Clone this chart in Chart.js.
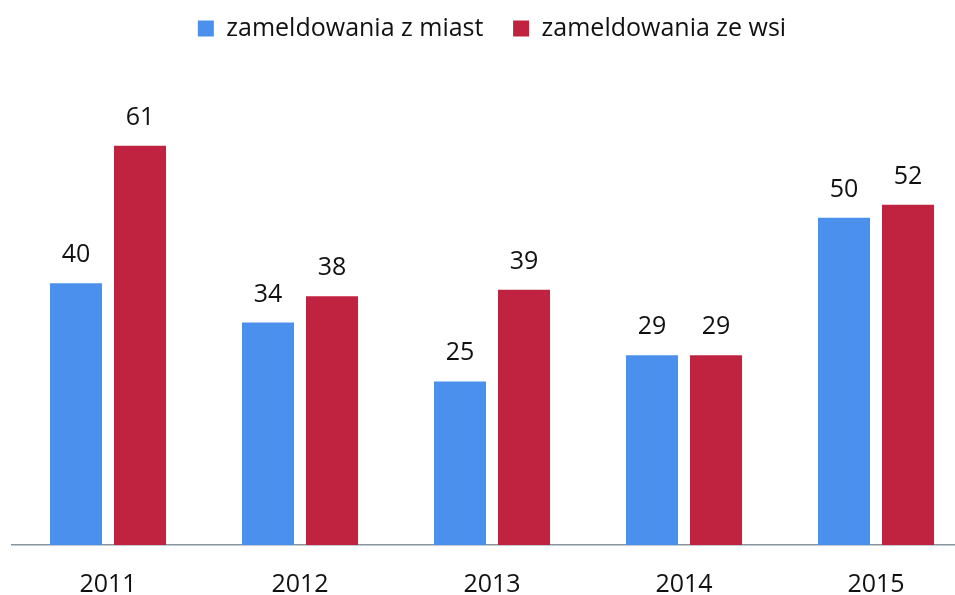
<!DOCTYPE html>
<html lang="pl">
<head>
<meta charset="UTF-8">
<title>Zameldowania</title>
<script src="https://cdn.jsdelivr.net/npm/chart.js"></script>
<style>
  html, body { margin: 0; padding: 0; background: #fff; overflow: hidden; }
  /* wykres jest odrobinę szerszy niż okno, ostatnia grupa dochodzi do krawędzi */
  #box { width: 972px; height: 595px; }
</style>
</head>
<body>
<div id="box"><canvas id="wykres"></canvas></div>
<script>
  // dane
  const lata = ['2011', '2012', '2013', '2014', '2015'];
  const zMiast = [40, 34, 25, 29, 50];
  const zeWsi = [61, 38, 39, 29, 52];

  const czcionka = '"Open Sans", Lato, sans-serif';

  // wartości nad słupkami
  const etykiety = {
    id: 'etykiety',
    afterDatasetsDraw(chart) {
      const ctx = chart.ctx;
      ctx.save();
      ctx.font = '25px ' + czcionka;
      ctx.fillStyle = '#111';
      ctx.textAlign = 'center';
      ctx.textBaseline = 'alphabetic';
      chart.data.datasets.forEach((ds, i) => {
        chart.getDatasetMeta(i).data.forEach((bar, j) => {
          ctx.fillText(ds.data[j], bar.x, bar.y - 21);
        });
      });
      ctx.restore();
    }
  };

  new Chart(document.getElementById('wykres'), {
    type: 'bar',
    data: {
      labels: lata,
      datasets: [
        { label: 'zameldowania z miast', data: zMiast, backgroundColor: '#4a90ec' },
        { label: 'zameldowania ze wsi', data: zeWsi, backgroundColor: '#c02340' }
      ]
    },
    options: {
      responsive: true,
      maintainAspectRatio: false,
      animation: false,
      layout: { padding: { left: 12, right: 0, top: 3 } },
      datasets: { bar: { categoryPercentage: 0.667, barPercentage: 0.8125 } },
      plugins: {
        legend: {
          position: 'top',
          labels: {
            color: '#111',
            font: { family: czcionka, size: 25 },
            boxWidth: 16,
            boxHeight: 16,
            padding: 13,
            // większy odstęp między pozycjami legendy, bez zmiany wysokości
            generateLabels(chart) {
              const items = Chart.defaults.plugins.legend.labels.generateLabels(chart);
              items.forEach((it, i) => {
                if (i < items.length - 1) it.text = it.text + '\u2002\u2009';
              });
              return items;
            }
          }
        },
        tooltip: { enabled: false }
      },
      scales: {
        x: {
          grid: { display: false, drawTicks: false },
          border: { color: '#8595a2', width: 1.5 },
          ticks: { color: '#111', font: { family: czcionka, size: 25 }, padding: 25 },
          afterFit(scale) { scale.height = 50; }
        },
        y: {
          display: false,
          min: 0,
          max: 75.5
        }
      }
    },
    plugins: [etykiety]
  });
</script>
</body>
</html>
